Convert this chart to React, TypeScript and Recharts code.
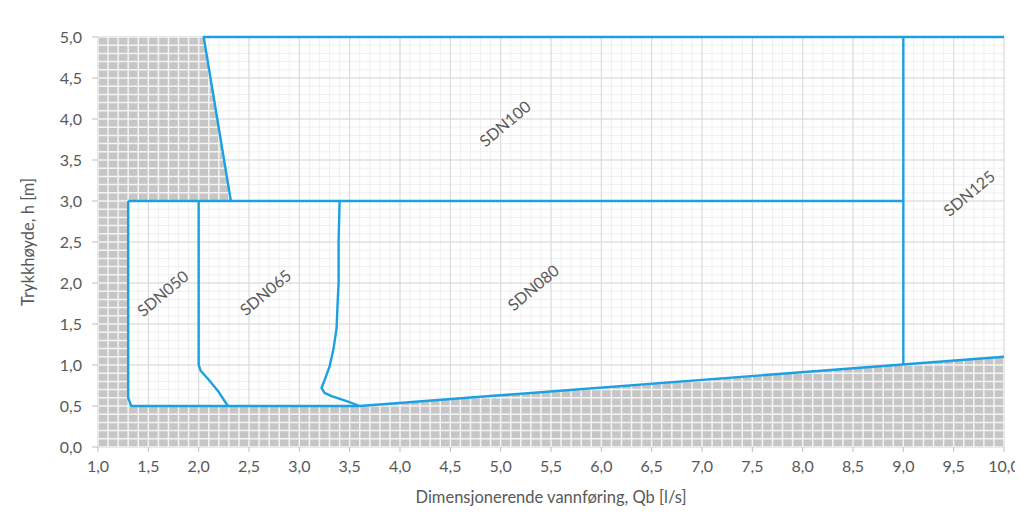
import React from "react";
import {
  ComposedChart,
  Area,
  Line,
  Scatter,
  XAxis,
  YAxis,
  CartesianGrid,
} from "recharts";

// ---- axis ticks ----
const xTicks = [1, 1.5, 2, 2.5, 3, 3.5, 4, 4.5, 5, 5.5, 6, 6.5, 7, 7.5, 8, 8.5, 9, 9.5, 10];
const yTicks = [0, 0.5, 1, 1.5, 2, 2.5, 3, 3.5, 4, 4.5, 5];
const minorStep = 0.1;

// ---- boundary lines (x = Qb [l/s], y = h [m]) ----
const sdn100Top = [
  { x: 2.32, y: 3 },
  { x: 2.05, y: 5 },
  { x: 10, y: 5 },
];
const sdn080Top = [
  { x: 1.3, y: 3 },
  { x: 9, y: 3 },
];
const sdn125Left = [
  { x: 9, y: 1.0 },
  { x: 9, y: 5 },
];
const sdn050Left = [
  { x: 1.3, y: 3 },
  { x: 1.3, y: 0.6 },
  { x: 1.33, y: 0.5 },
  { x: 3.6, y: 0.5 },
];
const sdn065Left = [
  { x: 2.0, y: 3 },
  { x: 2.0, y: 1.0 },
  { x: 2.02, y: 0.93 },
  { x: 2.1, y: 0.82 },
  { x: 2.2, y: 0.67 },
  { x: 2.29, y: 0.5 },
];
const sdn080Left = [
  { x: 3.4, y: 3 },
  { x: 3.39, y: 2.5 },
  { x: 3.39, y: 2.0 },
  { x: 3.38, y: 1.75 },
  { x: 3.37, y: 1.45 },
  { x: 3.34, y: 1.2 },
  { x: 3.3, y: 0.98 },
  { x: 3.24, y: 0.78 },
  { x: 3.22, y: 0.72 },
  { x: 3.25, y: 0.66 },
  { x: 3.32, y: 0.62 },
  { x: 3.47, y: 0.56 },
  { x: 3.6, y: 0.5 },
];
const bottomSlope = [
  { x: 3.6, y: 0.5 },
  { x: 10, y: 1.1 },
];

// ---- shaded (outside) regions as range areas [low, high] ----
const shadeBottom = [
  { x: 1, r: [0, 5] },
  { x: 1.3, r: [0, 5] },
  { x: 1.3, r: [0, 0.6] },
  { x: 1.33, r: [0, 0.5] },
  { x: 3.6, r: [0, 0.5] },
  { x: 9, r: [0, 1.0] },
  { x: 10, r: [0, 1.1] },
];
const shadeTopLeft = [
  { x: 1.2, r: [3, 5] },
  { x: 2.05, r: [3, 5] },
  { x: 2.32, r: [3, 3] },
];

// ---- region labels ----
const labelNames = ["SDN050", "SDN065", "SDN080", "SDN100", "SDN125"];
const labelX = [1.64, 2.66, 5.32, 5.04, 9.65];
const labelY = [1.88, 1.89, 1.95, 3.95, 3.1];
const labelData = labelNames.map((name, i) => ({ x: labelX[i], y: labelY[i], name }));

// ---- layout ----
const W = 1015;
const H = 506;
const MARGIN = { top: 29, right: 19, bottom: 0, left: 0 };
const Y_AXIS_W = 90;
const X_AXIS_H = 67;
const PLOT_L = MARGIN.left + Y_AXIS_W;
const PLOT_T = MARGIN.top;
const PLOT_W = W - PLOT_L - MARGIN.right;
const PLOT_H = H - PLOT_T - MARGIN.bottom - X_AXIS_H;
const X_MIN = 1;
const X_MAX = 10;
const Y_MIN = 0;
const Y_MAX = 5;

const BLUE = "#1ba1e2";
const TEXT = "#595959";
const FONT = "Lato, 'Open Sans', sans-serif";
const GRAY = "#c6c6c6";
const FS = 16;

const nX = Math.round((X_MAX - X_MIN) / minorStep);
const nY = Math.round((Y_MAX - Y_MIN) / minorStep);
const minorX = Array.from({ length: nX + 1 }, (_, i) => +(X_MIN + i * minorStep).toFixed(2));
const minorY = Array.from({ length: nY + 1 }, (_, i) => +(Y_MIN + i * minorStep).toFixed(2));

const fmt = (v: number) => v.toFixed(1).replace(".", ",");

const LabelShape = (props: any) => {
  const { cx, cy, payload } = props;
  if (cx == null || cy == null) return null;
  return (
    <text
      x={cx}
      y={cy}
      transform={`rotate(-40 ${cx} ${cy})`}
      textAnchor="middle"
      dominantBaseline="central"
      fill={TEXT}
      fontSize={FS}
      fontFamily={FONT}
    >
      {payload.name}
    </text>
  );
};

const YTitle = (props: any) => {
  const vb = props.viewBox || {};
  const x = 20;
  const y = (vb.y ?? PLOT_T) + (vb.height ?? PLOT_H) / 2;
  return (
    <text
      x={x}
      y={y}
      transform={`rotate(-90 ${x} ${y})`}
      textAnchor="middle"
      dominantBaseline="central"
      fill={TEXT}
      fontSize={FS + 0.5}
      fontFamily={FONT}
    >
      Trykkhøyde, h [m]
    </text>
  );
};

const XTitle = (props: any) => {
  const vb = props.viewBox || {};
  const x = (vb.x ?? PLOT_L) + (vb.width ?? PLOT_W) / 2;
  const y = 489;
  return (
    <text
      x={x}
      y={y}
      textAnchor="middle"
      dominantBaseline="central"
      fill={TEXT}
      fontSize={FS + 0.5}
      fontFamily={FONT}
    >
      Dimensjonerende vannføring, Qb [l/s]
    </text>
  );
};

export default function App() {
  const cellW = PLOT_W / nX;
  const cellH = PLOT_H / nY;
  return (
    <div style={{ width: W, height: H, background: "#fff" }}>
      <ComposedChart width={W} height={H} margin={MARGIN}>
        <defs>
          <pattern
            id="grayGrid"
            patternUnits="userSpaceOnUse"
            x={PLOT_L}
            y={PLOT_T}
            width={PLOT_W}
            height={PLOT_H}
          >
            <rect x={0} y={0} width={PLOT_W} height={PLOT_H} fill={GRAY} />
            {minorX.map((_, i) => (
              <line
                key={"v" + i}
                x1={i * cellW}
                x2={i * cellW}
                y1={0}
                y2={PLOT_H}
                stroke="#f4f4f4"
                strokeWidth={1.5}
              />
            ))}
            {minorY.map((_, j) => (
              <line
                key={"h" + j}
                x1={0}
                x2={PLOT_W}
                y1={j * cellH}
                y2={j * cellH}
                stroke="#f4f4f4"
                strokeWidth={1.5}
              />
            ))}
          </pattern>
        </defs>
        <CartesianGrid
          stroke="#efefef"
          strokeWidth={1}
          horizontalValues={minorY}
          verticalValues={minorX}
        />
        <CartesianGrid
          stroke="#d9d9d9"
          strokeWidth={1}
          horizontalValues={yTicks}
          verticalValues={xTicks}
        />
        <XAxis
          dataKey="x"
          type="number"
          domain={[X_MIN, X_MAX]}
          ticks={xTicks}
          tickFormatter={fmt}
          height={X_AXIS_H}
          axisLine={false}
          tickLine={{ stroke: "#bfbfbf" }}
          tickSize={5}
          tickMargin={9}
          tick={{ fill: TEXT, fontSize: FS, fontFamily: FONT }}
          interval={0}
          label={<XTitle />}
        />
        <YAxis
          dataKey="y"
          type="number"
          domain={[Y_MIN, Y_MAX]}
          ticks={yTicks}
          tickFormatter={fmt}
          width={Y_AXIS_W}
          axisLine={false}
          tickLine={{ stroke: "#bfbfbf" }}
          tickSize={6}
          tickMargin={10}
          tick={{ fill: TEXT, fontSize: FS, fontFamily: FONT }}
          interval={0}
          label={<YTitle />}
        />
        <Area
          data={shadeBottom}
          dataKey="r"
          type="linear"
          stroke="none"
          fill="url(#grayGrid)"
          fillOpacity={1}
          isAnimationActive={false}
          dot={false}
          activeDot={false}
        />
        <Area
          data={shadeTopLeft}
          dataKey="r"
          type="linear"
          stroke="none"
          fill="url(#grayGrid)"
          fillOpacity={1}
          isAnimationActive={false}
          dot={false}
          activeDot={false}
        />
        {[sdn100Top, sdn080Top, sdn125Left, sdn050Left, sdn065Left, sdn080Left, bottomSlope].map(
          (d, i) => (
            <Line
              key={i}
              data={d}
              dataKey="y"
              type="linear"
              stroke={BLUE}
              strokeWidth={2.4}
              dot={false}
              activeDot={false}
              isAnimationActive={false}
              strokeLinejoin="round"
            />
          )
        )}
        <Scatter data={labelData} dataKey="y" shape={LabelShape} isAnimationActive={false} />
      </ComposedChart>
    </div>
  );
}
